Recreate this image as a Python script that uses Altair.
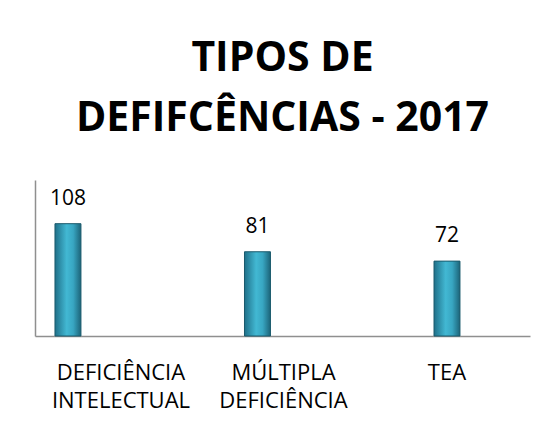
import altair as alt
import pandas as pd

categories = ["DEFICIÊNCIA INTELECTUAL", "MÚLTIPLA DEFICIÊNCIA", "TEA"]
values = [108, 81, 72]
title_lines = ["TIPOS DE", "DEFIFCÊNCIAS - 2017"]

df = pd.DataFrame({"categoria": categories, "valor": values})

bar_fill = alt.Gradient(
    gradient="linear",
    stops=[
        alt.GradientStop(color="#1f7089", offset=0),
        alt.GradientStop(color="#42b8d3", offset=0.45),
        alt.GradientStop(color="#38a6c2", offset=0.7),
        alt.GradientStop(color="#1c6479", offset=1),
    ],
    x1=0, x2=1, y1=0, y2=0,
)

label_offset = {
    "condition": [
        {"test": f"datum.value == '{categories[0]}'", "value": 53},
        {"test": f"datum.value == '{categories[1]}'", "value": 26},
    ],
    "value": 0,
}

x = alt.X(
    "categoria:N",
    sort=categories,
    scale=alt.Scale(paddingInner=0.863, paddingOuter=0.2375, align=0.222),
    axis=alt.Axis(
        title=None,
        labelAngle=0,
        ticks=False,
        grid=False,
        labelExpr="split(datum.label, ' ')",
        labelFont="Open Sans",
        labelFontSize=22,
        labelColor="#000000",
        labelLineHeight=28,
        labelPadding=26,
        labelOffset=label_offset,
        domainColor="#8f8f8f",
        domainWidth=1.5,
    ),
)
y = alt.Y(
    "valor:Q",
    scale=alt.Scale(domain=[0, 150]),
    axis=alt.Axis(
        title=None,
        labels=False,
        ticks=False,
        grid=False,
        domainColor="#8f8f8f",
        domainWidth=1.5,
    ),
)

bars = alt.Chart(df).mark_bar(
    fill=bar_fill, stroke="#1a5a6c", strokeWidth=1
).encode(x=x, y=y)

labels = alt.Chart(df).mark_text(
    baseline="alphabetic", dy=-19, font="Open Sans", fontSize=21, color="#000000"
).encode(x=x, y=y, text="valor:Q")

chart = (
    alt.layer(bars, labels)
    .properties(
        width=495,
        height=156,
        background="#ffffff",
        padding={"left": 27, "top": 30, "right": 10, "bottom": 5},
        title=alt.TitleParams(
            text=title_lines,
            font="Open Sans",
            fontSize=41,
            fontWeight="bold",
            color="#000000",
            lineHeight=60,
            offset=40,
            anchor="middle",
        ),
    )
    .configure_view(strokeWidth=0)
)

chart.save("out.html", embed_options={"renderer": "svg", "actions": False})
